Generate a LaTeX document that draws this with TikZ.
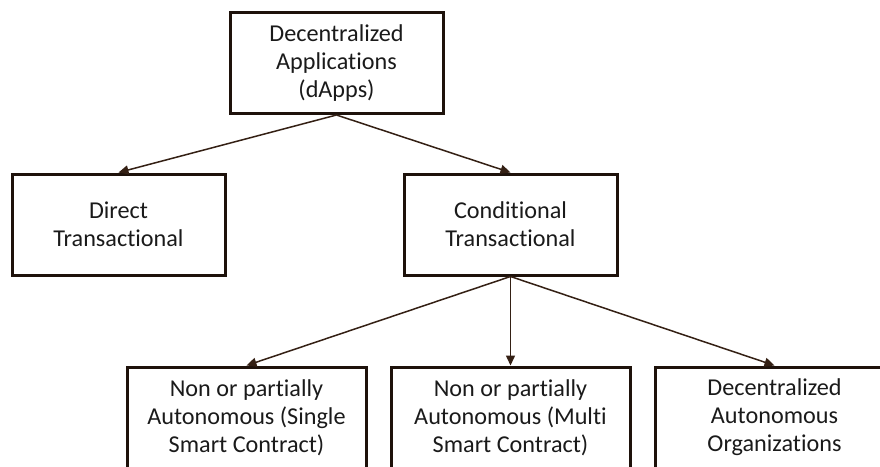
\documentclass[tikz,border=0pt]{standalone}
\usepackage{fontspec}
\setmainfont{Carlito}[Ligatures=NoCommon]
\usetikzlibrary{arrows.meta, trees}

\definecolor{boxline}{RGB}{30,18,11}
\definecolor{arrowline}{RGB}{52,32,20}
\definecolor{labeltext}{RGB}{26,26,26}

\begin{document}
\begin{tikzpicture}[
    x=1pt, y=1pt,
    box/.style={draw=boxline, line width=3pt, align=center, text=labeltext,
      font=\fontsize{24.2}{28}\selectfont, minimum width=213pt, minimum height=101pt, inner sep=0pt},
    leafbox/.style={box, minimum width=239pt},
    level 1/.style={grow via three points={one child at (-22,-161.5) and two children at (-218,-161.5) and (174,-161.5)}},
    level 2/.style={grow via three points={one child at (0,-193) and two children at (-132,-193) and (132,-193)}},
    edge from parent/.style={draw=arrowline, line width=1.5pt, -{Triangle[length=10pt,width=9pt]}},
    edge from parent path={(\tikzparentnode.south) -- (\tikzchildnode.north)}
  ]
    \useasboundingbox (0,0) rectangle (880,-466);
    \node[box] (dapps) at (336.5,-63) {Decentralized\\Applications\\(dApps)}
        child { node[box] (direct) {Direct\\Transactional}
        }
        child { node[box] (conditional) {Conditional\\Transactional}
            child { node[leafbox] (single) {Non or partially\\Autonomous (Single\\Smart Contract)} }
            child { node[leafbox] (multi) {Non or partially\\Autonomous (Multi\\Smart Contract)} }
            child { node[leafbox] (dao) {Decentralized\\Autonomous\\Organizations} }
        };
\end{tikzpicture}
\end{document}
